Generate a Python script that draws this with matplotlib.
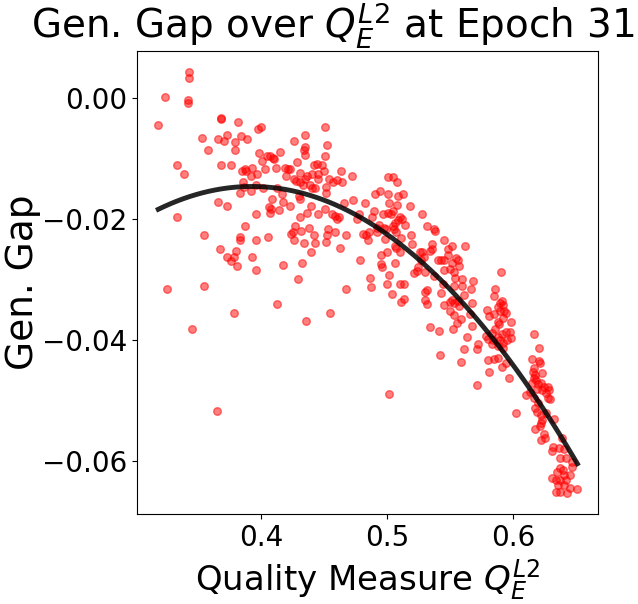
import numpy as np
import matplotlib
matplotlib.use("Agg")
import matplotlib.pyplot as plt

# quality measure Q_E^L2 vs generalisation gap, epoch 31
# upper-left part
q_a = [0.343, 0.343, 0.324, 0.342, 0.342, 0.3185, 0.3685, 0.3685, 0.382, 0.400,
       0.398, 0.3535, 0.366, 0.3704, 0.373, 0.379, 0.3844, 0.389, 0.358, 0.3797,
       0.3336, 0.3392, 0.3685, 0.3765, 0.3987, 0.4154, 0.401, 0.4045, 0.407, 0.4093,
       0.4106, 0.4032, 0.4122, 0.419, 0.4217, 0.4228, 0.3931, 0.3876, 0.3852, 0.3878,
       0.3923, 0.397, 0.420, 0.3855, 0.396, 0.3868, 0.3836, 0.3923, 0.4019, 0.413,
       0.417, 0.409, 0.4175, 0.423, 0.366, 0.373, 0.4064, 0.408, 0.4143]
g_a = [0.0043, 0.0033, 0.0002, -0.0003, -0.0007, -0.0045, -0.0032, -0.0034, -0.0040, -0.0047,
       -0.0050, -0.0065, -0.0068, -0.0071, -0.0060, -0.0073, -0.0063, -0.0068, -0.0085, -0.0086,
       -0.0110, -0.0125, -0.0110, -0.0110, -0.0091, -0.0089, -0.0104, -0.0095, -0.0096, -0.0098,
       -0.0100, -0.0117, -0.0116, -0.0116, -0.0117, -0.0117, -0.0115, -0.0117, -0.0120, -0.0120,
       -0.0128, -0.0126, -0.0128, -0.0138, -0.0144, -0.0147, -0.0157, -0.0153, -0.0149, -0.0148,
       -0.0159, -0.0167, -0.0171, -0.0179, -0.0171, -0.0179, -0.0180, -0.0183, -0.0185]

# middle-left part
q_b = [0.3963, 0.4074, 0.3336, 0.3876, 0.355, 0.3836, 0.3836, 0.3963, 0.4058, 0.3677,
       0.3804, 0.373, 0.3783, 0.3765, 0.3812, 0.3931, 0.3963, 0.4177, 0.3257, 0.355,
       0.413, 0.3788, 0.3455, 0.3653]
g_b = [-0.0191, -0.0190, -0.0196, -0.0212, -0.0227, -0.0230, -0.0234, -0.0234, -0.0229, -0.0250,
       -0.0252, -0.0262, -0.0262, -0.0269, -0.0277, -0.0262, -0.0284, -0.0275, -0.0315, -0.0310,
       -0.0340, -0.0355, -0.0381, -0.0517]

# upper-middle part
q_c = [0.451, 0.4352, 0.4264, 0.4352, 0.4526, 0.4344, 0.4352, 0.451, 0.4288, 0.4423,
       0.4447, 0.4487, 0.4502, 0.4312, 0.4407, 0.4455, 0.4368, 0.4637, 0.4725, 0.4264,
       0.428, 0.4312, 0.4352, 0.4455, 0.4542, 0.4574, 0.4606, 0.4645, 0.4336, 0.4391,
       0.4407, 0.4431, 0.4518, 0.4518, 0.4304, 0.4312, 0.4399, 0.451, 0.4661, 0.4733,
       0.4828, 0.4907, 0.4947, 0.501, 0.505, 0.5082, 0.501, 0.509, 0.513, 0.5018,
       0.5082, 0.5185]
g_c = [-0.0048, -0.0060, -0.0071, -0.0081, -0.0078, -0.0086, -0.0093, -0.0096, -0.0105, -0.0110,
       -0.0108, -0.0110, -0.0120, -0.0123, -0.0125, -0.0125, -0.0128, -0.0120, -0.0128, -0.0134,
       -0.0137, -0.0138, -0.0133, -0.0134, -0.0133, -0.0139, -0.0136, -0.0139, -0.0144, -0.0144,
       -0.0149, -0.0149, -0.0146, -0.0156, -0.0161, -0.0166, -0.0178, -0.0183, -0.0174, -0.0168,
       -0.0174, -0.0158, -0.0154, -0.0130, -0.0131, -0.0139, -0.0159, -0.0161, -0.0158, -0.0174,
       -0.0176, -0.0179]

# centre part
q_d = [0.4368, 0.4455, 0.4312, 0.4566, 0.459, 0.4622, 0.4606, 0.478, 0.4764, 0.4899,
       0.4883, 0.4971, 0.501, 0.5034, 0.505, 0.528, 0.5106, 0.5122, 0.509, 0.5066,
       0.5145, 0.505, 0.5058, 0.4272, 0.4256, 0.424, 0.4264, 0.432, 0.4383, 0.4423,
       0.4344, 0.4431, 0.4518, 0.4534, 0.4526, 0.459, 0.4677, 0.463, 0.4399, 0.4812,
       0.4836, 0.486, 0.4852, 0.4923, 0.4939, 0.4923, 0.4979, 0.4995, 0.4987, 0.5074,
       0.5114, 0.5193, 0.532, 0.5376, 0.5383, 0.545, 0.536, 0.5201, 0.5066, 0.5074,
       0.5106, 0.4955, 0.5002, 0.4788, 0.5066, 0.4955, 0.4963, 0.5018, 0.4868, 0.4876,
       0.5002, 0.5106, 0.5137, 0.5042, 0.5137, 0.5114, 0.5264, 0.528, 0.5296, 0.5344,
       0.536, 0.5272, 0.5248, 0.5217, 0.5241, 0.5301, 0.5376, 0.5407, 0.5431, 0.545,
       0.5455, 0.5444, 0.5431, 0.532, 0.5304, 0.5304, 0.532, 0.5455, 0.4328, 0.4296,
       0.4677, 0.455, 0.436, 0.5344, 0.5415, 0.5423, 0.5018]
g_d = [-0.0189, -0.0191, -0.0196, -0.0192, -0.0194, -0.0197, -0.0199, -0.0192, -0.0199, -0.0187,
       -0.0197, -0.0192, -0.0189, -0.0192, -0.0187, -0.0191, -0.0196, -0.0199, -0.0202, -0.0206,
       -0.0209, -0.0212, -0.0216, -0.0212, -0.0221, -0.0224, -0.0234, -0.0219, -0.0214, -0.0226,
       -0.0239, -0.0239, -0.0237, -0.0217, -0.0227, -0.0221, -0.0226, -0.0247, -0.0255, -0.0224,
       -0.0226, -0.0222, -0.0234, -0.0214, -0.0209, -0.0221, -0.0214, -0.0217, -0.0232, -0.0221,
       -0.0231, -0.0227, -0.0212, -0.0216, -0.0219, -0.0235, -0.0241, -0.0241, -0.0244, -0.0247,
       -0.0255, -0.0259, -0.0255, -0.0267, -0.0272, -0.0274, -0.0279, -0.0292, -0.0297, -0.0313,
       -0.0307, -0.0308, -0.0308, -0.0323, -0.0332, -0.0337, -0.0255, -0.0254, -0.0262, -0.0252,
       -0.0250, -0.0267, -0.0279, -0.0289, -0.0285, -0.0287, -0.0294, -0.0267, -0.0267, -0.0267,
       -0.0284, -0.0308, -0.0322, -0.0317, -0.0320, -0.0333, -0.0340, -0.0342, -0.0272, -0.0299,
       -0.0315, -0.0355, -0.0368, -0.0378, -0.0385, -0.0425, -0.0489]

# right-middle part
q_e = [0.5518, 0.5621, 0.5486, 0.5486, 0.555, 0.5566, 0.5574, 0.5518, 0.5502, 0.5534,
       0.5542, 0.5598, 0.5598, 0.5534, 0.5685, 0.5669, 0.5613, 0.5907, 0.586, 0.5852,
       0.5518, 0.5502, 0.5534, 0.5566, 0.5574, 0.5677, 0.5502, 0.5534, 0.559, 0.5558,
       0.5661, 0.5677, 0.5526, 0.5637, 0.5613, 0.5725, 0.5717, 0.559, 0.5796, 0.5812,
       0.5852, 0.5883, 0.5899, 0.5915, 0.5923, 0.5899, 0.5931, 0.5947, 0.5883, 0.5891,
       0.5986, 0.5923, 0.586, 0.5836, 0.5788, 0.5804, 0.5844, 0.5883, 0.5915, 0.5947,
       0.5979, 0.5899, 0.5923, 0.5955, 0.5986, 0.5923, 0.5883, 0.5836, 0.5804, 0.5852,
       0.5883, 0.5947, 0.6169, 0.6209, 0.6153, 0.6209, 0.6217]
g_e = [-0.0245, -0.0245, -0.0249, -0.0259, -0.0264, -0.0267, -0.0277, -0.0272, -0.0282, -0.0287,
       -0.0297, -0.0299, -0.0310, -0.0310, -0.0302, -0.0315, -0.0326, -0.0287, -0.0315, -0.0327,
       -0.0333, -0.0337, -0.0338, -0.0335, -0.0343, -0.0338, -0.0352, -0.0358, -0.0365, -0.0371,
       -0.0357, -0.0376, -0.0381, -0.0395, -0.0415, -0.0406, -0.0415, -0.0436, -0.0350, -0.0361,
       -0.0357, -0.0345, -0.0338, -0.0335, -0.0342, -0.0352, -0.0352, -0.0355, -0.0370, -0.0373,
       -0.0370, -0.0363, -0.0381, -0.0388, -0.0393, -0.0398, -0.0400, -0.0395, -0.0390, -0.0386,
       -0.0386, -0.0400, -0.0405, -0.0400, -0.0396, -0.0413, -0.0410, -0.0406, -0.0433, -0.0431,
       -0.0430, -0.0438, -0.0390, -0.0413, -0.0431, -0.0435, -0.0438]

# lower-right tail
q_f = [0.5915, 0.5812, 0.5717, 0.5971, 0.6169, 0.6161, 0.6177, 0.6169, 0.6185, 0.6153,
       0.6232, 0.6201, 0.6225, 0.6193, 0.6232, 0.6248, 0.628, 0.6288, 0.6264, 0.6106,
       0.6137, 0.6169, 0.628, 0.6296, 0.6201, 0.6177, 0.6193, 0.6264, 0.6225, 0.6232,
       0.6225, 0.6217, 0.6177, 0.6328, 0.6248, 0.6225, 0.6256, 0.6026, 0.6391, 0.632,
       0.6312, 0.6367, 0.6407, 0.6375, 0.6423, 0.6471, 0.6471, 0.6375, 0.6399, 0.6352,
       0.6407, 0.6455, 0.6312, 0.6344, 0.6375, 0.6423, 0.636, 0.6407, 0.6455, 0.651,
       0.6344, 0.6375, 0.643]
g_f = [-0.0445, -0.0453, -0.0474, -0.0463, -0.0446, -0.0453, -0.0458, -0.0463, -0.0466, -0.0471,
       -0.0454, -0.0473, -0.0471, -0.0481, -0.0483, -0.0478, -0.0478, -0.0483, -0.0488, -0.0491,
       -0.0486, -0.0496, -0.0496, -0.0498, -0.0504, -0.0512, -0.0519, -0.0521, -0.0524, -0.0532,
       -0.0537, -0.0542, -0.0547, -0.0531, -0.0556, -0.0566, -0.0562, -0.0521, -0.0562, -0.0577,
       -0.0584, -0.0579, -0.0580, -0.0595, -0.0595, -0.0602, -0.0610, -0.0612, -0.0615, -0.0619,
       -0.0624, -0.0624, -0.0629, -0.0632, -0.0632, -0.0632, -0.0639, -0.0640, -0.0644, -0.0647,
       -0.0652, -0.0652, -0.0653]

quality = np.array(q_a + q_b + q_c + q_d + q_e + q_f)
gen_gap = np.array(g_a + g_b + g_c + g_d + g_e + g_f)

# quadratic trend
coef = np.polyfit(quality, gen_gap, 2)
xs = np.linspace(quality.min(), quality.max(), 200)
ys = np.polyval(coef, xs)

fig = plt.figure(figsize=(6.38, 6.04), dpi=100)
ax = fig.add_axes([0.2152, 0.149, 0.7226, 0.7661])
ax.scatter(quality, gen_gap, c='red', alpha=0.5, s=30)
ax.plot(xs, ys, color='black', alpha=0.85, lw=3.5)
# title sits a bit left of the axes centre in the original
ax.set_title('Gen. Gap over $Q_E^{L2}$ at Epoch 31', fontsize=28, x=0.4245)
ax.set_xlabel('Quality Measure $Q_E^{L2}$', fontsize=24.5)
ax.set_ylabel('Gen. Gap', fontsize=27, labelpad=1)
ax.tick_params(labelsize=20)
ax.set_xticks([0.4, 0.5, 0.6])
ax.set_yticks([0.0, -0.02, -0.04, -0.06])
fig.savefig('out.png')
